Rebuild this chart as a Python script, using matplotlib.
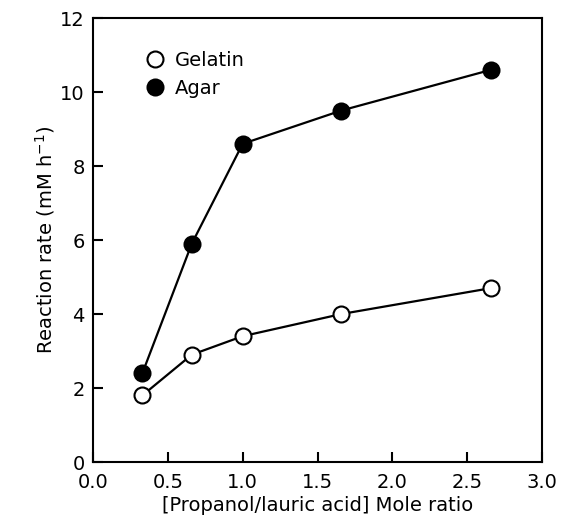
import matplotlib
matplotlib.use("Agg")
import matplotlib.pyplot as plt

# mole ratio propanol / lauric acid
ratio = [0.33, 0.66, 1.0, 1.66, 2.66]
gelatin = [1.8, 2.9, 3.4, 4.0, 4.7]
agar = [2.4, 5.9, 8.6, 9.5, 10.6]

xticks = [0.0, 0.5, 1.0, 1.5, 2.0, 2.5, 3.0]
yticks = [0, 2, 4, 6, 8, 10, 12]

plt.rcParams['font.family'] = ['DejaVu Sans']

fig = plt.figure(figsize=(5.61, 5.20), dpi=100)
ax = fig.add_axes([93 / 561, 58 / 520, 449 / 561, 444 / 520])

ax.plot(ratio, gelatin, color='black', lw=1.6, marker='o', ms=11.5,
        mfc='white', mec='black', mew=1.5, label='Gelatin')
ax.plot(ratio, agar, color='black', lw=1.6, marker='o', ms=11.5,
        mfc='black', mec='black', mew=1.5, label='Agar')

ax.set_xlim(0, 3)
ax.set_ylim(0, 12)
ax.set_xticks(xticks)
ax.set_xticklabels(['%.1f' % v for v in xticks])
ax.set_yticks(yticks)
ax.tick_params(direction='in', length=7, width=1.5, labelsize=14,
               top=False, right=False)
ax.tick_params(axis='x', pad=8)
ax.tick_params(axis='y', pad=6)
for s in ax.spines.values():
    s.set_linewidth(1.5)

ax.set_xlabel('[Propanol/lauric acid] Mole ratio', fontsize=14, labelpad=3)
ax.set_ylabel('Reaction rate (mM h$^{-1}$)', fontsize=14, labelpad=2)

ax.legend(loc='upper left', bbox_to_anchor=(0.1, 0.965), frameon=False,
          fontsize=14, handlelength=0, handletextpad=1.0, labelspacing=0.45,
          markerscale=1.0)

fig.savefig('out.png', dpi=100)
